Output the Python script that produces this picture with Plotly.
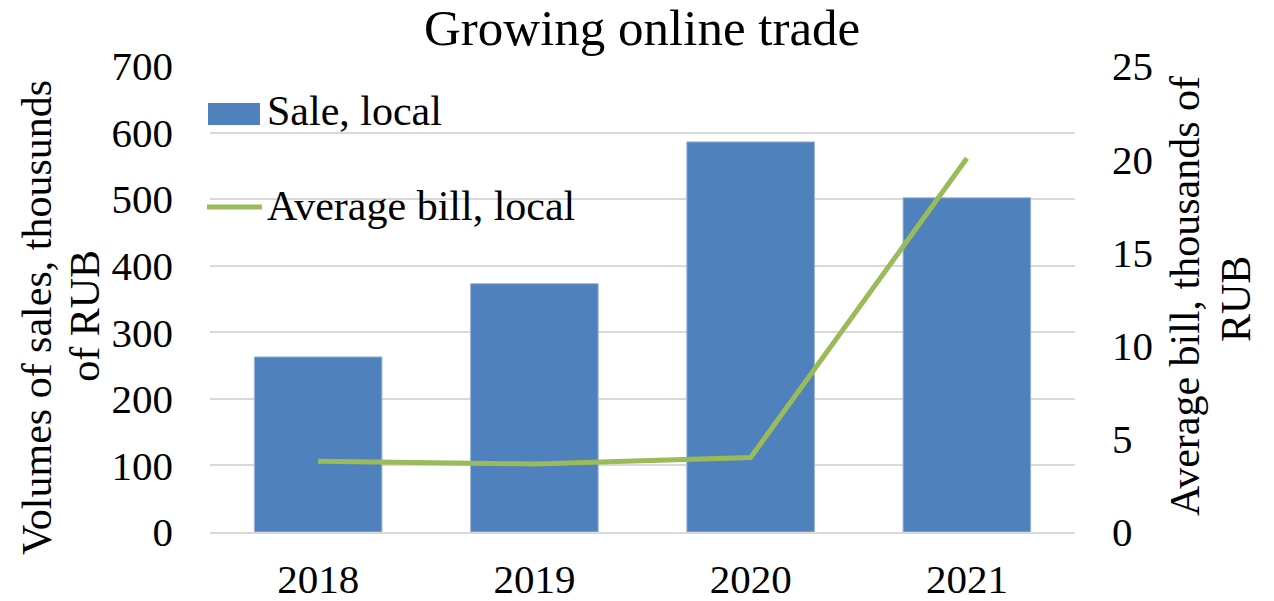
import plotly.graph_objects as go

# Yearly figures for online trade
years = ["2018", "2019", "2020", "2021"]
sales_local = [263, 373, 586, 502]            # thousands of RUB
average_bill_local = [3.8, 3.65, 4.0, 20.05]  # thousands of RUB

left_ticks = [0, 100, 200, 300, 400, 500, 600, 700]
right_ticks = [0, 5, 10, 15, 20, 25]

FONT = "Liberation Serif"
GRID = "#d9d9d9"
BAR_COLOR = "#4f81bd"
LINE_COLOR = "#9bbb59"

fig = go.Figure()
fig.add_trace(go.Bar(
    x=years, y=sales_local, name="Sale, local",
    marker=dict(color=BAR_COLOR, line=dict(color="#9db4d8", width=1)),
    yaxis="y", showlegend=False,
))
fig.add_trace(go.Scatter(
    x=years, y=average_bill_local, name="Average bill, local",
    mode="lines", line=dict(color=LINE_COLOR, width=5),
    yaxis="y2", showlegend=False,
))

# Legend drawn in paper coordinates (large swatches)
fig.add_shape(type="rect", xref="paper", yref="paper",
              x0=-0.0023, x1=0.0578, y0=0.8734, y1=0.9206,
              fillcolor=BAR_COLOR, line=dict(width=0))
fig.add_shape(type="line", xref="paper", yref="paper",
              x0=-0.0035, x1=0.060, y0=0.6974, y1=0.6974,
              line=dict(color=LINE_COLOR, width=5))
fig.add_annotation(text="Sale, local", xref="paper", yref="paper",
                   x=0.0635, y=0.903, xanchor="left", yanchor="middle",
                   showarrow=False, font=dict(family=FONT, size=42))
fig.add_annotation(text="Average bill, local", xref="paper", yref="paper",
                   x=0.0635, y=0.699, xanchor="left", yanchor="middle",
                   showarrow=False, font=dict(family=FONT, size=42))

# Axis titles, one annotation per line
axis_title_lines = [
    ("Volumes of sales, thousunds", -0.200, 0.459),
    ("of RUB", -0.1445, 0.464),
    ("Average bill, thousands of", 1.1272, 0.5064),
    ("RUB", 1.1861, 0.500),
]
for text, xp, yp in axis_title_lines:
    fig.add_annotation(text=text, xref="paper", yref="paper", x=xp, y=yp,
                       xanchor="center", yanchor="middle", textangle=-90,
                       showarrow=False, font=dict(family=FONT, size=42))

fig.update_layout(
    width=1274, height=601,
    margin=dict(l=210, r=199, t=66, b=69),
    paper_bgcolor="white", plot_bgcolor="white",
    font=dict(family=FONT, size=41, color="black"),
    title=dict(text="Growing online trade", x=0.504, xanchor="center",
               y=0.955, yanchor="middle", yref="container",
               font=dict(family=FONT, size=51, color="black")),
    bargap=0.41,
    showlegend=False,
    xaxis=dict(type="category", range=[-0.5, 3.5], showgrid=False,
               showline=True, linecolor=GRID, linewidth=2,
               ticks="", ticklabelstandoff=10, automargin=False,
               tickfont=dict(family=FONT, size=41)),
    yaxis=dict(range=[0, 700], tickvals=left_ticks, showgrid=True,
               gridcolor=GRID, gridwidth=2, zeroline=False, showline=False,
               ticklabelstandoff=36, automargin=False,
               tickfont=dict(family=FONT, size=41)),
    yaxis2=dict(range=[0, 25], tickvals=right_ticks, overlaying="y",
                side="right", showgrid=False, zeroline=False, showline=False,
                ticklabelstandoff=36, automargin=False,
                tickfont=dict(family=FONT, size=41)),
)

fig.write_html("out.html")
